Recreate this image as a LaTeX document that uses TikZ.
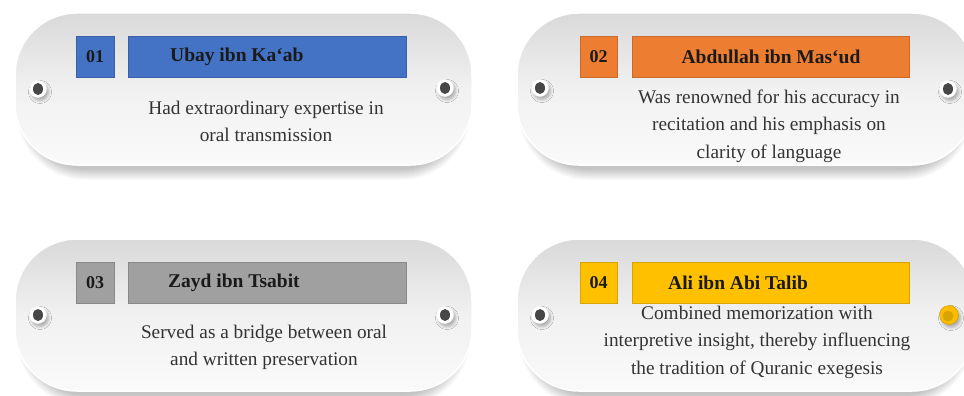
\documentclass[tikz,border=0pt]{standalone}
\usepackage{fontspec}
\setmainfont{Liberation Serif}
\usetikzlibrary{shadows.blur,shapes.geometric}
\definecolor{cblue}{HTML}{4472C4}
\definecolor{corange}{HTML}{ED7D31}
\definecolor{cgray}{HTML}{A0A0A0}
\definecolor{cyellow}{HTML}{FFC000}
\definecolor{pilltop}{HTML}{D9D9D9}
\definecolor{pillmid}{HTML}{F1F1F1}
\definecolor{pillbot}{HTML}{FAFAFA}
\definecolor{bodytext}{HTML}{333333}
\definecolor{titletext}{HTML}{1A1A1A}
\newcommand\pillshadow[2]{%
  \foreach \k in {0,...,11}{%
    \pgfmathsetmacro\ee{\k-4}%
    \fill[black, opacity=0.02, rounded corners=62pt+\ee pt]
      (#1-220-\ee, #2+8-76-\ee) rectangle (#1+220+\ee, #2+8+76+\ee);
  }%
}
\begin{document}
\begin{tikzpicture}[x=1pt,y=-1pt,
  pill/.style={rectangle, rounded corners=62pt, minimum width=457pt, minimum height=152pt,
    top color=pilltop, bottom color=pillbot, middle color=pillmid,
    draw=white, line width=1.5pt},
  numbox/.style={rectangle, minimum width=38pt, minimum height=41pt, inner sep=0pt,
    font=\fontsize{18}{20}\selectfont\bfseries, text=titletext, line width=0.8pt},
  titlebar/.style={rectangle, minimum width=278pt, minimum height=41pt, inner sep=0pt, line width=0.8pt},
  titletxt/.style={inner sep=0pt, font=\fontsize{19.5}{22}\selectfont\bfseries, text=titletext},
  bodytxt/.style={align=center, inner sep=0pt, font=\fontsize{19.3}{27.5}\selectfont, text=bodytext},
  screwring/.style={circle, minimum size=17pt, inner sep=0pt, fill=white, draw=white!94!gray, line width=0.4pt,
    blur shadow={shadow xshift=2pt, shadow yshift=-3pt, shadow blur radius=3pt, shadow opacity=30}},
  screwhead/.style={ellipse, minimum width=10pt, minimum height=12pt, inner sep=0pt, fill=black!72},
  yscrew/.style={circle, minimum size=19pt, inner sep=0pt, fill=cyellow!95!orange, draw=cyellow!80!black, line width=0.4pt,
    blur shadow={shadow xshift=2pt, shadow yshift=-3pt, shadow blur radius=3pt, shadow opacity=30}},
  yscrewin/.style={circle, minimum size=11pt, inner sep=0pt, fill=cyellow!85!black}
]
\clip (0,0) rectangle (964,396);
\fill[white] (0,0) rectangle (964,396);

\pillshadow{243.5}{89}
\pillshadow{745.5}{89}
\pillshadow{243.5}{315}
\pillshadow{745.5}{315}

% ---------- Pill 1 ----------
\node[pill] (p1) at (243.5,89) {};
\node[numbox, fill=cblue, draw=cblue!85!black] (n1) at (95,56.5) {01};
\node[titlebar, fill=cblue, draw=cblue!85!black] (b1) at (267,56.5) {};
\node[titletxt, anchor=west] (t1) at (170,56.5) {Ubay ibn Ka‘ab};
\node[bodytxt] (d1) at (266,121.5) {Had extraordinary expertise in\\oral transmission};
\node[screwring] (s1l) at (38,89) {};
\node[screwhead] (h1l) at (38,89) {};
\node[screwring] (s1r) at (445,88) {};
\node[screwhead] (h1r) at (445,88) {};

% ---------- Pill 2 ----------
\node[pill] (p2) at (745.5,89) {};
\node[numbox, fill=corange, draw=corange!85!black, minimum width=37pt] (n2) at (598.5,56.5) {02};
\node[titlebar, fill=corange, draw=corange!85!black, minimum width=277pt] (b2) at (770.5,56.5) {};
\node[titletxt] (t2) at (771,56.5) {Abdullah ibn Mas‘ud};
\node[bodytxt] (d2) at (769,126) {Was renowned for his accuracy in\\recitation and his emphasis on\\clarity of language};
\node[screwring] (s2l) at (540,88) {};
\node[screwhead] (h2l) at (540,88) {};
\node[screwring] (s2r) at (948,89) {};
\node[screwhead] (h2r) at (948,89) {};

% ---------- Pill 3 ----------
\node[pill] (p3) at (243.5,315) {};
\node[numbox, fill=cgray, draw=cgray!85!black] (n3) at (95,283) {03};
\node[titlebar, fill=cgray, draw=cgray!85!black] (b3) at (267,283) {};
\node[titletxt, anchor=west] (t3) at (168,283) {Zayd ibn Tsabit};
\node[bodytxt] (d3) at (264,347.5) {Served as a bridge between oral\\and written preservation};
\node[screwring] (s3l) at (38,315) {};
\node[screwhead] (h3l) at (38,315) {};
\node[screwring] (s3r) at (445,315) {};
\node[screwhead] (h3r) at (445,315) {};

% ---------- Pill 4 ----------
\node[pill] (p4) at (745.5,315) {};
\node[numbox, fill=cyellow, draw=cyellow!85!black, minimum width=37pt] (n4) at (598.5,283) {04};
\node[titlebar, fill=cyellow, draw=cyellow!85!black, minimum width=277pt] (b4) at (770.5,283) {};
\node[titletxt, anchor=west] (t4) at (668,283) {Ali ibn Abi Talib};
\node[bodytxt] (d4) at (757,342) {Combined memorization with\\interpretive insight, thereby influencing\\the tradition of Quranic exegesis};
\node[screwring] (s4l) at (540,315) {};
\node[screwhead] (h4l) at (540,315) {};
\node[yscrew] (s4r) at (949,315) {};
\node[yscrewin] (h4r) at (948,316) {};
\end{tikzpicture}
\end{document}
